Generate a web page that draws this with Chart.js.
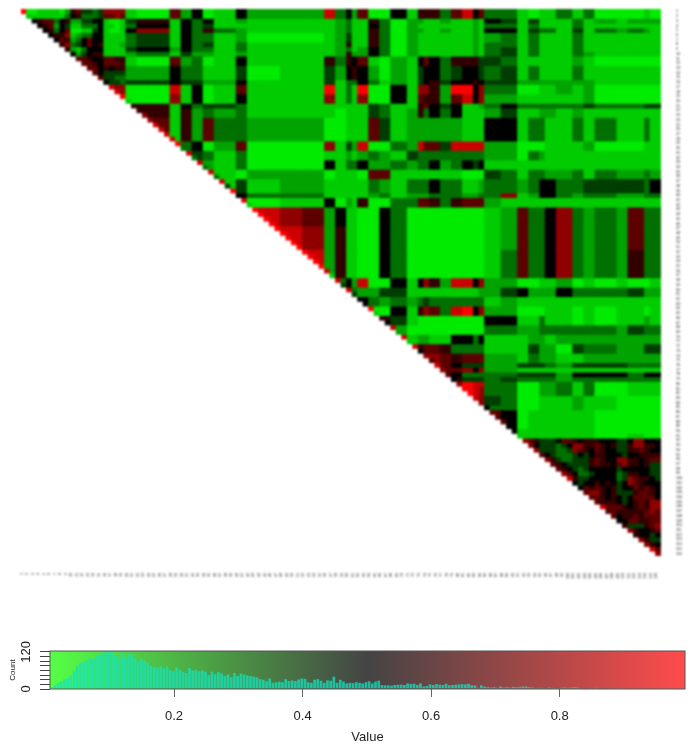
<!DOCTYPE html>
<html>
<head>
<meta charset="utf-8">
<title>Heatmap</title>
<script src="https://cdn.jsdelivr.net/npm/chart.js@4"></script>
<style>
  html, body { margin: 0; padding: 0; background: #fff; }
  #wrap { position: relative; width: 691px; height: 750px; overflow: hidden; }
  canvas { position: absolute; left: 0; }
  #heat { top: 0; filter: blur(0.8px); }
  #key { top: 600px; filter: blur(0.5px); }
</style>
</head>
<body>
<div id="wrap">
  <canvas id="heat" width="691" height="600"></canvas>
  <canvas id="key" width="691" height="150"></canvas>
</div>
<script>
// Niveles: 0 = verde, 5 = negro, a = rojo puro
const cellCount = 116;
const levelValues = [0.04, 0.1, 0.18, 0.28, 0.38, 0.5, 0.6, 0.68, 0.78, 0.9, 1];

// Primera columna de cada banda vertical
const columnStarts = [
    0, 1, 5, 7, 9, 11, 13,
    15, 19, 21, 27, 29, 31, 33, 35,
    39, 41, 47, 51, 55, 57, 59, 60, 61, 63, 65, 67, 70,
    72, 73, 74, 76, 78, 80, 82, 83,
    84, 87, 90, 92, 94, 95, 97, 100, 102, 104, 108, 110, 113, 114
];

// Cuantas filas ocupa cada entrada de levelRows
const rowSpans = [
    2, 1, 1, 1, 2, 1, 1, 1, 2, 3, 1, 2, 2, 1, 2, 5, 1, 1, 2, 2, 2, 3, 1, 2,
    4, 5, 4, 2, 2, 2, 2, 2, 2, 2, 2, 2, 2, 1, 1, 1, 1, 1, 2, 2, 1, 4, 1, 1,
    2, 2, 3, 2, 4, 4, 2, 3, 1, 2
];

// Un caracter por banda, alineado a la derecha
const levelRows = [
    "a112643 81072501 5222935270051 66637957 33101131300010",
    ".665234 14615351 2111123116302 21121121 54141113121222",
    ".665133 13515341 1111123115302 11111121 33131113111111",
    ".675014 15815363 2111123116302 21121121 55143314132321",
    "..67134 13415331 2000124116302 11111121 23131113111111",
    "...6355 13415341 3111126116302 11111121 33131113111111",
    "...6246 14525331 3111123125302 11111121 34131113111111",
    "....255 22314221 2111126225302 11111121 34131113211111",
    "....776 71072301 5111636571021 57536664 43111112100000",
    ".....66 42253311 4011425652021 45534554 34131113111111",
    "54454422 5111413353121 45645565 44222222211111",
    "90091501 7111a131a0051 8862aa58 33001121200000",
    "90081501 5111813180051 76627958 22111111200000",
    ".7615344 3111111114311 67545112 35333333433344",
    "..616232 3111101114312 63535111 24112212111111",
    "..716273 3222001117412 22222111 55133113131131",
    "...93502 7000814290032 97749999 22000111200011",
    "....3502 7000814290032 97749999 22000111200011",
    "....3431 3000112123214 33333333 22032111111111",
    ".....421 3000513352232 33523545 11111111111111",
    "......11 0222011107711 11111000 43133223132232",
    ".......1 4122111113213 33533112 33235533444435",
    "5333111112312 22333223 38125532332233",
    "8011502160033 77636777 21111111111111",
    ".987251100530 00000000 12733583232733",
    ".a98261100530 00000000 12733583232733",
    "...9261100530 00000000 13733583232633",
    "....261100530 00000000 13733583232633",
    ".....35290051 58629958 22001120101001",
    "......3322441 11111112 24522253333422",
    "........53232 34333333 12111111111111",
    ".........0051 68739a58 22000110101101",
    "..........641 00000000 55113110101121",
    "...........20 00000000 33223333332433",
    "............1 22115535 11122122222222",
    "............1 67763333 11142204332244",
    ".7876777 22132211222222",
    "..775444 22444324444333",
    "...77858 22111111111111",
    "...65333 33444425555355",
    "....6444 34333323333333",
    "....9a99 33002231300111",
    ".....a98 33002231300111",
    "......98 43001112110000",
    "33001112110000",
    "75011111100000",
    ".3111111100000",
    "..111111100100",
    "..775468675855",
    "...74348665565",
    ".....744575767",
    "......74543643",
    ".......5774766",
    ".........86778",
    "..........6467",
    "...........656",
    "............87",
    ".............8"
];

// Celdas de la diagonal, de la fila 0 a la 115
const diagonalLevels =
    "a155565555" + "8887759991" + "66889999a3" + "9393939" + "4a5" + "91aaaaaaaa" +
    "aaaaa91949" + "455a165929" + "1958798758" + "aa98577755" + "1879489879" +
    "5788898575" + "799998";

// Esquina superior izquierda: filas 0 a 18, cada texto empieza en la diagonal
const topLeftRows = [
    "a001111026744348888",
    "111111135633347787",
    "56773562244551001",
    "5672541133351101",
    "563570011451001",
    "56681233551111",
    "5762357551111",
    "683457561112",
    "62135551111",
    "5245661111",
    "776557766",
    "77657776",
    "7756566",
    "754444",
    "74433",
    "5443",
    "988",
    "98",
    "a"
];

// Esquina inferior derecha: filas 91 a 115, cada texto empieza en la diagonal
const bottomRightRows = [
    "8764445776566655544588555",
    "854443458866765644688665",
    "84443348765765544667655",
    "7543334545665554556666",
    "864334446765588665677",
    "76544446766578665644",
    "7654345555545555544",
    "875334555534665544",
    "96445555534876654",
    "5455656545876555",
    "576765645576765",
    "78865644467765",
    "7765654577775",
    "766654567688",
    "97776567688",
    "7766666787",
    "756676777",
    "55776677",
    "6444678",
    "865567",
    "65545",
    "8644",
    "865",
    "97",
    "8"
];

// Histograma de la barra de colores
const histCounts = [
    6, 12, 20, 26, 32, 35, 45, 58, 75, 84, 90, 92, 100, 98, 108, 112, 117, 119, 120, 120,
    108, 98, 118, 104, 116, 112, 100, 90, 97, 92, 85, 75, 72, 70, 74, 66, 73, 62, 58, 70,
    62, 55, 52, 68, 60, 62, 58, 60, 56, 45, 56, 48, 55, 50, 42, 47, 38, 52, 42, 50,
    47, 44, 42, 40, 38, 32, 30, 25, 34, 20, 22, 24, 22, 32, 26, 28, 26, 31, 34, 33,
    22, 20, 30, 32, 27, 20, 28, 27, 40, 20, 30, 24,
    18, 20, 19, 22, 20, 18, 22, 25, 18, 24, 27,
    13, 12, 12, 11, 13, 14, 14, 13, 18, 16, 17, 13, 18, 8, 10,
    15, 13, 16, 14, 13, 17, 12, 13, 14, 15, 16, 15, 17, 12, 12, 4, 12,
    8, 6, 5, 6, 4, 8, 5, 6, 5, 7, 6, 7, 8, 8, 6, 5,
    3, 4, 4, 3, 5, 4, 3, 3, 4, 5, 4, 5, 6, 5, 3, 2,
    2, 3, 1, 4, 2, 1, 1, 2, 1, 3, 1, 1, 2, 1, 1, 1, 1, 2, 1, 1, 1, 1, 1, 1, 1, 1, 1, 1, 1, 1, 1
];

const keyMin = 0.007;
const keyMax = 0.995;
const keyTicks = [0.2, 0.4, 0.6, 0.8];
const countTicks = [0, 15, 30, 45, 60, 75, 90, 105, 120];
const countLabels = [0, 120];

function levelColor(ch) {
    const v = levelValues[ch === 'a' ? 10 : Number(ch)];
    if (v < 0.5) return 'rgb(0,' + Math.round(255 * (1 - 2 * v)) + ',0)';
    return 'rgb(' + Math.round(255 * (2 * v - 1)) + ',0,0)';
}

// Pasa de bandas a una fila por nivel
function expandRows() {
    const rows = [];
    levelRows.forEach((text, n) => {
        const bands = text.replace(/ /g, '').padStart(columnStarts.length, '.');
        for (let s = 0; s < rowSpans[n]; s++) {
            const r = rows.length;
            const cells = [];
            for (let c = 0; c < cellCount; c++) {
                let b = columnStarts.length - 1;
                while (columnStarts[b] > c) b--;
                cells.push(bands[b]);
            }
            if (diagonalLevels[r]) cells[r] = diagonalLevels[r];
            if (topLeftRows[r]) {
                [...topLeftRows[r]].forEach((ch, i) => { cells[r + i] = ch; });
            }
            if (r >= 91) {
                [...bottomRightRows[r - 91]].forEach((ch, i) => { cells[r + i] = ch; });
            }
            rows.push(cells);
        }
    });
    return rows;
}

const matrix = expandRows();
const labels = matrix.map((_, i) => String(i + 1));

const heatDatasets = matrix.map((cells, r) => ({
    label: labels[r],
    data: cells.map((ch, c) => (c >= r ? [r, r + 1] : null)),
    backgroundColor: cells.map(ch => (ch === '.' ? '#000' : levelColor(ch))),
    grouped: false,
    barPercentage: 1,
    categoryPercentage: 1,
    inflateAmount: 0.4,
    borderWidth: 0
}));

new Chart(document.getElementById('heat'), {
    type: 'bar',
    data: { labels: labels, datasets: heatDatasets },
    options: {
        responsive: false,
        animation: false,
        layout: { padding: { left: 21, top: 9, right: 0, bottom: 0 } },
        plugins: { legend: { display: false }, tooltip: { enabled: false } },
        scales: {
            x: {
                grid: { display: false, drawTicks: false },
                border: { display: false },
                afterFit: s => { s.height = 44; s.paddingLeft = 0; s.paddingRight = 0; },
                ticks: {
                    autoSkip: false, minRotation: 90, maxRotation: 90, padding: 17, labelOffset: -2,
                    font: { size: 3.6, family: 'Liberation Sans' }, color: '#000'
                }
            },
            y: {
                position: 'right',
                reverse: true,
                min: 0,
                max: cellCount,
                grid: { display: false, drawTicks: false },
                border: { display: false },
                afterFit: s => { s.width = 30; s.paddingTop = 0; s.paddingBottom = 0; },
                afterBuildTicks: s => { s.ticks = labels.map((_, i) => ({ value: i + 0.5 })); },
                ticks: {
                    autoSkip: false, padding: 15,
                    callback: v => labels[Math.floor(v)],
                    font: { size: 3.6, family: 'Liberation Sans' }, color: '#000'
                }
            }
        }
    }
});

// Fondo degradado de la barra de colores
const keyBackground = {
    id: 'keyBackground',
    beforeDatasetsDraw(chart) {
        const { ctx, chartArea: a } = chart;
        const g = ctx.createLinearGradient(a.left, 0, a.right, 0);
        g.addColorStop(0, 'rgb(85,255,70)');
        g.addColorStop(0.5, 'rgb(68,68,68)');
        g.addColorStop(1, 'rgb(255,75,75)');
        ctx.save();
        ctx.fillStyle = g;
        ctx.fillRect(a.left, a.top, a.right - a.left, a.bottom - a.top);
        ctx.restore();
    },
    afterDatasetsDraw(chart) {
        const { ctx, chartArea: a } = chart;
        ctx.save();
        ctx.strokeStyle = '#555';
        ctx.lineWidth = 1;
        ctx.strokeRect(a.left, a.top, a.right - a.left, a.bottom - a.top);
        ctx.restore();
    }
};

const binWidth = (keyMax - keyMin) / histCounts.length;

new Chart(document.getElementById('key'), {
    type: 'bar',
    data: {
        datasets: [{
            label: 'Count',
            data: histCounts.map((n, i) => ({ x: keyMin + (i + 0.5) * binWidth, y: n })),
            backgroundColor: 'rgba(20,225,190,0.75)',
            barPercentage: 1,
            categoryPercentage: 0.85
        }]
    },
    options: {
        responsive: false,
        animation: false,
        layout: { padding: { left: 0, top: 51, right: 6, bottom: 5 } },
        plugins: { legend: { display: false }, tooltip: { enabled: false } },
        scales: {
            x: {
                type: 'linear',
                offset: false,
                min: keyMin,
                max: keyMax,
                grid: { display: true, offset: false, tickLength: 8, tickColor: '#666', drawOnChartArea: false },
                border: { display: false },
                afterBuildTicks: s => { s.ticks = keyTicks.map(v => ({ value: v })); },
                afterFit: s => { s.height = 56; },
                ticks: {
                    padding: 12,
                    callback: v => v.toFixed(1),
                    font: { size: 13, family: 'Liberation Sans' }, color: '#222'
                },
                title: {
                    display: true, text: 'Value', padding: { top: 5, bottom: 0 },
                    font: { size: 13, family: 'Liberation Sans' }, color: '#222'
                }
            },
            y: {
                min: 0,
                max: 123.2,
                grid: { display: true, tickLength: 10, tickColor: '#444', drawOnChartArea: false },
                border: { display: false },
                afterBuildTicks: s => { s.ticks = countTicks.map(v => ({ value: v })); },
                afterFit: s => { s.width = 50; },
                ticks: {
                    minRotation: 90, crossAlign: 'center', padding: 3, autoSkip: false,
                    callback: v => (countLabels.includes(v) ? String(v) : ''),
                    font: { size: 13, family: 'Liberation Sans' }, color: '#222'
                },
                title: {
                    display: true, text: 'Count', padding: { top: 8, bottom: 0 },
                    font: { size: 8, family: 'Liberation Sans' }, color: '#222'
                }
            }
        }
    },
    plugins: [keyBackground]
});
</script>
</body>
</html>
